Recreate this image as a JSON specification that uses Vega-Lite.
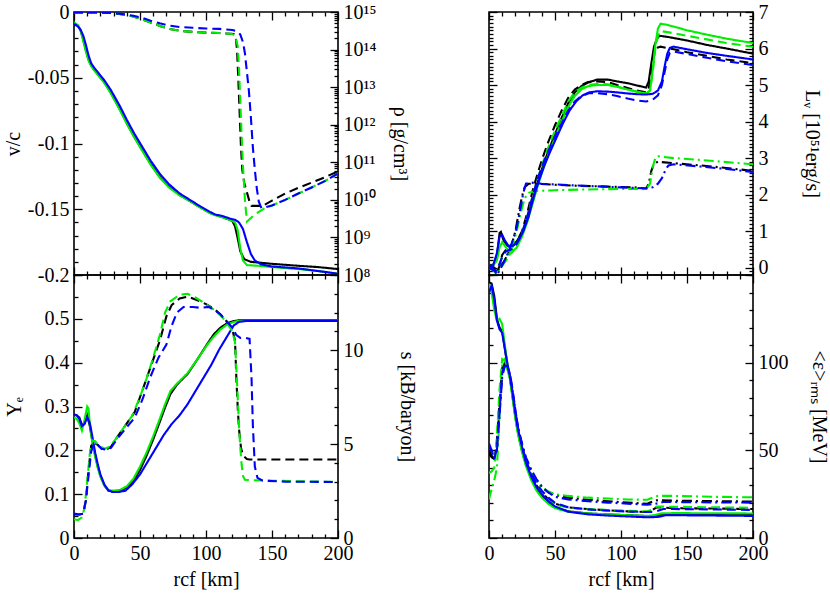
{
"$schema":"https://vega.github.io/schema/vega-lite/v6.json",
"background":"white",
"padding":{"left":2,"top":1,"right":5,"bottom":5},
"config":{
 "view":{"stroke":"black","strokeWidth":1.6},
 "axis":{"domain":false,"grid":false,"tickColor":"black","tickWidth":1.3,"labelFont":"Liberation Serif","labelFontSize":20,"labelColor":"black","titleFont":"Liberation Serif","titleFontSize":20,"titleFontWeight":"normal","titleColor":"black","labelPadding":13,"labelOverlap":false,"labelFlush":false,"labelBound":false},
 "line":{"strokeWidth":2.1}
},
"datasets":{
 "vc":[
  {"m":"a","k":"s","r":[0,3,5,7,9,11,13,15,19,23,28,35,40,46,52,58,65,72,80,88,96,103,107,112,118,120,122,124,126,129,134,150,170,185,200],"v":[-0.0085,-0.0105,-0.014,-0.021,-0.029,-0.036,-0.0405,-0.0435,-0.0485,-0.0535,-0.0615,-0.0745,-0.0845,-0.0955,-0.1055,-0.1155,-0.1255,-0.133,-0.139,-0.1438,-0.1488,-0.1528,-0.1543,-0.1558,-0.158,-0.159,-0.163,-0.172,-0.182,-0.188,-0.19,-0.1915,-0.193,-0.194,-0.1955]},
  {"m":"b","k":"s","r":[0,3,5,7,9,11,13,15,19,23,28,35,40,46,52,58,65,72,80,88,96,103,107,112,118,122,124,126,128,131,140,150,170,185,200],"v":[-0.008,-0.01,-0.014,-0.022,-0.03,-0.037,-0.041,-0.044,-0.049,-0.054,-0.062,-0.075,-0.085,-0.096,-0.106,-0.116,-0.126,-0.1335,-0.1395,-0.144,-0.149,-0.153,-0.1545,-0.156,-0.158,-0.16,-0.166,-0.18,-0.189,-0.1925,-0.193,-0.194,-0.1955,-0.197,-0.199]},
  {"m":"c","k":"s","r":[0,3,5,7,9,11,13,15,19,23,28,35,40,46,52,58,65,72,80,88,96,103,107,112,118,122,125,128,131,134,137,142,150,170,185,200],"v":[-0.009,-0.011,-0.0135,-0.018,-0.025,-0.033,-0.039,-0.042,-0.047,-0.052,-0.0595,-0.072,-0.082,-0.093,-0.103,-0.113,-0.123,-0.131,-0.138,-0.143,-0.148,-0.152,-0.154,-0.155,-0.157,-0.158,-0.16,-0.165,-0.175,-0.184,-0.189,-0.192,-0.1935,-0.195,-0.197,-0.199]}
 ],
 "rho":[
  {"m":"a","k":"d","r":[0,20,30,38,45,52,58,65,72,80,90,100,110,119,121,122.5,123.5,124.5,125.5,126.5,127.5,129,131,133,134.5,142,145,150,160,170,180,190,200],"v":[9.77e14,9.66e14,9.33e14,8.51e14,7.59e14,6.31e14,5.25e14,4.27e14,3.55e14,3.16e14,2.95e14,2.82e14,2.75e14,2.63e14,2.6e14,2.24e14,1e14,1.58e13,2e12,2.51e11,6.31e10,2.82e10,1.58e10,8.91e9,6.92e9,6.92e9,7.59e9,9.55e9,1.48e10,2.09e10,2.88e10,3.98e10,5.75e10]},
  {"m":"b","k":"d","r":[0,20,30,38,45,52,58,65,72,80,90,100,110,119,122,124,125,126,127,128,129.5,131,135,140,145,150,160,170,180,190,200],"v":[9.77e14,9.66e14,9.33e14,8.51e14,7.59e14,6.31e14,5.25e14,4.27e14,3.55e14,3.16e14,2.95e14,2.82e14,2.75e14,2.63e14,2.4e14,1.26e14,3.16e13,3.98e12,5.01e11,7.94e10,1e10,2.63e9,3.55e9,4.79e9,6.17e9,7.08e9,1e10,1.48e10,2.14e10,3.16e10,5.01e10]},
  {"m":"c","k":"d","r":[0,20,30,38,45,52,58,65,72,80,90,100,110,120,124,126,128,129.5,131,132.5,134,135.5,137,138.5,140,142,145,150,160,170,180,190,200],"v":[9.77e14,9.66e14,9.33e14,8.71e14,7.94e14,6.92e14,5.89e14,5.01e14,4.37e14,3.98e14,3.8e14,3.63e14,3.55e14,3.31e14,3.02e14,2.51e14,1.58e14,7.94e13,2.51e13,7.94e12,1.58e12,2.51e11,6.31e10,2e10,8.91e9,6.03e9,6.31e9,7.08e9,1e10,1.48e10,2.14e10,3.16e10,5.01e10]}
 ],
 "ye":[
  {"m":"a","k":"s","r":[0,2,4,6,8,10,12,14,16,18,20,23,26,30,35,40,45,50,55,60,65,69,73,78,86,94,101,106,111,116,121,126,200],"v":[0.282,0.28,0.275,0.258,0.262,0.28,0.255,0.22,0.19,0.163,0.142,0.12,0.108,0.106,0.108,0.115,0.13,0.155,0.188,0.225,0.265,0.298,0.328,0.35,0.374,0.41,0.443,0.465,0.48,0.49,0.495,0.497,0.497]},
  {"m":"b","k":"s","r":[0,2,4,6,8,10,11,12,14,16,18,20,23,26,30,35,40,45,50,55,60,65,69,73,78,86,94,101,106,111,116,121,126,200],"v":[0.275,0.272,0.262,0.245,0.27,0.3,0.295,0.26,0.215,0.185,0.16,0.14,0.12,0.109,0.108,0.11,0.118,0.135,0.163,0.195,0.232,0.272,0.305,0.335,0.352,0.376,0.41,0.441,0.46,0.476,0.487,0.493,0.496,0.496]},
  {"m":"c","k":"s","r":[0,2,4,6,8,10,12,14,16,18,20,23,26,29,34,39,44,50,56,62,68,74,80,86,92,98,104,110,116,121,125,130,200],"v":[0.28,0.28,0.272,0.255,0.26,0.276,0.262,0.23,0.195,0.168,0.145,0.122,0.109,0.105,0.105,0.108,0.122,0.145,0.175,0.205,0.235,0.26,0.28,0.305,0.335,0.365,0.395,0.43,0.46,0.485,0.493,0.495,0.495]}
 ],
 "s":[
  {"m":"a","k":"d","r":[0,4,7,9,11,13,15,18,21,24,28,33,40,46,51,55,60,65,70,74,80,86,92,100,106,111,116,120,122,123,124,125,126.5,128,131,133,200],"v":[1.25,1.25,1.3,2.0,3.6,4.9,5.1,4.95,4.75,4.7,4.85,5.4,6.1,6.7,7.7,8.5,9.5,10.5,11.8,12.4,12.75,12.85,12.7,12.45,12.2,11.9,11.5,11.1,10.5,8.5,7.0,5.8,4.8,4.4,4.2,4.18,4.18]},
  {"m":"b","k":"d","r":[0,3,6,8,10,12,14,16,19,23,27,32,38,44,50,55,60,65,69,73,80,86,92,100,106,111,116,120,122,123,124,125,126,127,128,129.5,135,150,200],"v":[1.0,0.95,1.1,1.6,3.0,4.5,5.2,5.15,4.9,4.75,4.85,5.3,5.9,6.5,7.5,8.5,9.6,10.8,12.0,12.6,12.95,13.0,12.8,12.45,12.15,11.85,11.45,11.0,10.4,9.0,7.5,6.0,4.8,3.9,3.3,3.1,3.08,3.05,2.98]},
  {"m":"c","k":"d","r":[0,4,7,9,11,13,15,18,21,24,28,33,40,46,52,58,64,70,74,78,83,90,96,102,106,111,116,120,123,126,130,133,134.5,135.5,137,139,143,160,200],"v":[1.3,1.25,1.3,2.0,3.3,4.6,5.0,4.95,4.75,4.7,4.8,5.3,5.9,6.4,7.4,8.6,9.6,10.3,11.3,12.0,12.3,12.3,12.25,12.3,12.15,11.9,11.5,11.2,10.8,10.65,10.65,10.6,8.5,6.0,3.8,3.2,3.05,3.0,2.98]}
 ],
 "lum":[
  {"m":"a","k":"s","r":[0,3,6,8,9,11,14,17,21,25,29,33,37,41,45,50,55,60,65,70,75,82,90,97,105,112,119,121,123,125,127,129,135,150,165,180,200],"v":[0.05,0.05,0.3,0.95,0.98,0.75,0.6,0.6,0.72,0.95,1.3,1.85,2.35,2.8,3.2,3.65,4.1,4.5,4.8,4.97,5.07,5.15,5.15,5.1,5.05,4.99,4.93,5.1,5.6,6.05,6.25,6.35,6.32,6.22,6.1,6.0,5.86]},
  {"m":"a","k":"d","r":[0,4,6,8,10,13,17,21,25,29,33,37,41,45,50,55,60,65,70,75,82,90,97,105,112,119,121,123,125,127,130,140,150,165,180,200],"v":[0.0,0.0,-0.15,0.05,0.35,0.5,0.55,0.7,1.0,1.5,2.1,2.6,3.05,3.45,3.9,4.3,4.65,4.88,5.0,5.08,5.1,5.08,5.0,4.92,4.85,4.8,4.9,5.4,5.85,6.02,6.05,5.98,5.9,5.8,5.7,5.6]},
  {"m":"a","k":"dd","r":[0,4,6,8,11,14,17,20,23,25,27,30,35,50,70,90,110,119,121,123,125,128,140,160,180,200],"v":[0.02,0.0,-0.15,0.0,0.15,0.35,0.6,1.0,1.6,1.95,2.2,2.3,2.3,2.27,2.24,2.22,2.2,2.17,2.3,2.65,2.85,2.9,2.86,2.8,2.73,2.65]},
  {"m":"b","k":"s","r":[0,3,6,8,10,12,15,18,21,25,29,33,37,41,45,50,55,60,65,70,75,82,90,97,105,112,119,122,124,126,128,130,135,150,165,180,200],"v":[0.05,0.05,0.2,0.55,0.7,0.6,0.45,0.45,0.55,0.85,1.25,1.75,2.25,2.7,3.1,3.55,4.0,4.4,4.7,4.88,4.97,5.0,5.0,4.95,4.88,4.82,4.77,4.85,5.4,6.1,6.55,6.68,6.65,6.5,6.38,6.27,6.15]},
  {"m":"b","k":"d","r":[0,5,8,10,13,17,21,25,29,33,37,41,45,50,55,60,65,70,75,82,90,97,105,112,119,122,124,126,128,130,135,150,165,180,200],"v":[0.0,-0.1,0.1,0.3,0.35,0.4,0.6,0.95,1.4,1.95,2.45,2.9,3.3,3.75,4.15,4.55,4.8,4.93,5.0,5.03,5.02,4.96,4.88,4.82,4.76,4.85,5.35,6.0,6.35,6.48,6.45,6.35,6.25,6.15,6.05]},
  {"m":"b","k":"dd","r":[0,4,6,9,12,15,18,21,24,27,30,35,50,70,90,110,119,122,124,126,128,140,160,180,200],"v":[0.0,-0.1,-0.2,0.0,0.15,0.3,0.6,1.0,1.5,1.9,2.05,2.1,2.12,2.14,2.15,2.16,2.15,2.3,2.75,3.0,3.05,3.0,2.95,2.89,2.83]},
  {"m":"c","k":"s","r":[0,3,6,8,10,12,15,18,22,26,30,34,38,42,46,51,56,61,66,71,76,82,90,97,105,112,119,124,128,131,133,135,137,140,150,165,180,200],"v":[0.05,0.05,0.4,0.85,0.9,0.75,0.58,0.6,0.72,1.0,1.4,1.95,2.4,2.8,3.15,3.55,3.95,4.3,4.55,4.72,4.8,4.83,4.82,4.8,4.77,4.75,4.74,4.76,4.85,5.1,5.5,5.85,6.02,6.05,5.98,5.88,5.8,5.7]},
  {"m":"c","k":"d","r":[0,5,8,10,13,17,21,25,29,33,37,41,45,50,55,60,65,70,76,82,90,97,105,112,119,124,128,131,133,135,137,140,150,165,180,200],"v":[0.0,-0.1,0.1,0.3,0.45,0.5,0.65,0.95,1.4,1.95,2.45,2.85,3.2,3.6,3.95,4.3,4.55,4.7,4.78,4.78,4.75,4.7,4.63,4.58,4.55,4.6,4.72,5.0,5.35,5.7,5.88,5.92,5.85,5.75,5.65,5.55]},
  {"m":"c","k":"dd","r":[0,4,6,9,12,15,18,21,24,26,28,32,40,60,80,100,119,124,128,131,134,136,140,160,180,200],"v":[0.0,-0.05,-0.2,0.0,0.2,0.45,0.75,1.1,1.65,2.05,2.3,2.33,2.3,2.26,2.23,2.2,2.17,2.2,2.3,2.45,2.7,2.8,2.83,2.77,2.7,2.62]}
 ],
 "erms":[
  {"m":"a","k":"s","r":[0,2,4,6,8,10,12,14,16,18,20,22,25,28,32,36,40,45,50,60,75,90,105,120,125,132,140,170,200],"v":[146,145,138,125,120,118,108,98,91,80,69,60,50,42,34,28,24,20,17.5,15.2,14,13.4,13,12.5,12.6,13.5,13.5,13.3,13.2]},
  {"m":"a","k":"d","r":[0,2,4,6,8,10,12,14,16,18,20,22,25,28,32,36,40,45,50,60,75,90,105,120,123,127,140,170,200],"v":[50,47,44,55,78,97,100,97,91,81,70,61,51,43,36,30,26,22,19.5,17.5,16.5,15.8,15.2,14.8,15.5,17.5,17,16.8,16.5]},
  {"m":"a","k":"dd","r":[0,2,4,6,8,10,12,14,16,18,20,22,25,28,32,36,40,45,50,60,75,90,105,120,123,127,140,170,200],"v":[48,46,45,50,75,95,100,97,91,81,71,62,53,45,38,33,29,26,24.5,23,21.8,21,20.2,19.5,20.5,21.5,21.3,21,20.8]},
  {"m":"b","k":"s","r":[0,2,4,6,8,10,12,14,16,18,20,22,25,28,32,36,40,45,50,60,75,90,105,120,125,130,140,170,200],"v":[145,140,130,124,125,122,110,99,90,79,68,59,49,41,33,27,23,19.5,17,15,14,13.5,13,12.6,13,14,14.2,14.1,14.0]},
  {"m":"b","k":"d","r":[0,2,4,6,8,10,12,14,16,18,20,22,25,28,32,36,40,45,50,60,75,90,105,120,123,127,140,170,200],"v":[37,38,40,58,85,102,101,96,90,80,69,60,50,42,35,29.5,25.5,21.5,19,17.3,16.5,16,15.5,15.2,16,18,17.8,17.5,17.2]},
  {"m":"b","k":"dd","r":[0,2,4,6,8,10,12,14,16,18,20,22,25,28,32,36,40,45,50,60,75,90,105,120,124,128,140,170,200],"v":[22,28,33,40,70,100,102,97,91,81,71,62,53,45,38,33,29,26.5,25,24,23,22.5,22,21.8,23,24,24,23.5,23.2]},
  {"m":"c","k":"s","r":[0,2,4,6,8,10,12,14,16,18,20,22,25,28,32,36,40,45,50,60,75,90,105,120,128,134,140,170,200],"v":[140,144,136,124,119,117,108,99,92,82,71,62,52,43,35,29,25,21,18,15,13.5,12.8,12.3,11.8,12,13,13,12.8,12.6]},
  {"m":"c","k":"d","r":[0,2,4,6,8,10,12,14,16,18,20,22,25,28,32,36,40,45,50,60,75,90,105,120,126,132,140,170,200],"v":[52,50,45,52,72,94,99,98,93,84,73,63,53,44,37,31,27,23,20,17.5,16.3,15.6,15.1,14.8,15,16.5,16.5,16.3,16.0]},
  {"m":"c","k":"dd","r":[0,2,4,6,8,10,12,14,16,18,20,22,25,28,32,36,40,45,50,60,75,90,105,120,126,132,140,170,200],"v":[54,50,46,50,70,92,98,98,93,83,72,63,54,46,39,33.5,29.5,26,23.5,22,21,20.2,19.6,19,19.5,20.5,20.5,20.3,20.2]}
 ]
},
"columns":2,
"spacing":{"row":0,"column":151},
"bounds":"flush",
"concat":[
  {"width":264,"height":263,
   "layer":[
    {"data":{"name":"vc"},"transform":[{"flatten":["r","v"]}],
     "mark":{"type":"line","clip":true},
     "encoding":{
      "x":{"field":"r","type":"quantitative","scale":{"domain":[0,200],"nice":false,"zero":false},
           "axis":{"orient":"bottom","values":[0,10,20,30,40,50,60,70,80,90,100,110,120,130,140,150,160,170,180,190,200],"labels":false,"title":null,"tickSize":{"condition":{"test":"datum.value % 50 === 0","value":-8},"value":-4}}},
      "y":{"field":"v","type":"quantitative","scale":{"domain":[-0.2,0],"nice":false,"zero":false},
           "axis":{"orient":"left","title":"v/c","titlePadding":4,"values":[0,-0.01,-0.02,-0.03,-0.04,-0.05,-0.06,-0.07,-0.08,-0.09,-0.1,-0.11,-0.12,-0.13,-0.14,-0.15,-0.16,-0.17,-0.18,-0.19,-0.2],
                   "labelExpr":"abs(datum.value*20 - round(datum.value*20)) < 1e-6 ? (datum.value < -1e-9 ? '-' : '') + format(abs(datum.value), '.2~f') : ''",
                   "tickSize":{"condition":{"test":"abs(datum.value*20 - round(datum.value*20)) < 1e-6","value":-8},"value":-4}}},
      "color":{"field":"m","type":"nominal","scale":{"domain":["a","b","c"],"range":["#000000","#00ee00","#0000ff"]},"legend":null},
      "strokeDash":{"field":"k","type":"nominal","scale":{"domain":["s","d","dd"],"range":[[1,0],[9,5],[10,4,2,4]]},"legend":null}
     }},
    {"data":{"name":"rho"},"transform":[{"flatten":["r","v"]}],
     "mark":{"type":"line","clip":true},
     "encoding":{
      "x":{"field":"r","type":"quantitative","scale":{"domain":[0,200],"nice":false,"zero":false},
           "axis":{"orient":"top","values":[0,10,20,30,40,50,60,70,80,90,100,110,120,130,140,150,160,170,180,190,200],"labels":false,"title":null,"tickSize":{"condition":{"test":"datum.value % 50 === 0","value":-8},"value":-4}}},
      "y":{"field":"v","type":"quantitative","scale":{"type":"log","domain":[1e8,1e15],"nice":false,"zero":false},
           "axis":{"orient":"right","title":"ρ [g/cm³]","titlePadding":14,
                   "values":[1e8,2e8,3e8,4e8,5e8,6e8,7e8,8e8,9e8,1e9,2e9,3e9,4e9,5e9,6e9,7e9,8e9,9e9,1e10,2e10,3e10,4e10,5e10,6e10,7e10,8e10,9e10,1e11,2e11,3e11,4e11,5e11,6e11,7e11,8e11,9e11,1e12,2e12,3e12,4e12,5e12,6e12,7e12,8e12,9e12,1e13,2e13,3e13,4e13,5e13,6e13,7e13,8e13,9e13,1e14,2e14,3e14,4e14,5e14,6e14,7e14,8e14,9e14,1e15],
                   "labelExpr":"datum.value === 1e8 ? '10⁸' : datum.value === 1e9 ? '10⁹' : datum.value === 1e10 ? '10¹⁰' : datum.value === 1e11 ? '10¹¹' : datum.value === 1e12 ? '10¹²' : datum.value === 1e13 ? '10¹³' : datum.value === 1e14 ? '10¹⁴' : datum.value === 1e15 ? '10¹⁵' : ''",
                   "tickSize":{"condition":{"test":"abs(log(datum.value)/LN10 - round(log(datum.value)/LN10)) < 1e-6","value":-8},"value":-4}}},
      "color":{"field":"m","type":"nominal","scale":{"domain":["a","b","c"],"range":["#000000","#00ee00","#0000ff"]},"legend":null},
      "strokeDash":{"field":"k","type":"nominal","scale":{"domain":["s","d","dd"],"range":[[1,0],[9,5],[10,4,2,4]]},"legend":null}
     }}
   ],
   "resolve":{"scale":{"x":"independent","y":"independent","color":"shared","strokeDash":"shared"},"axis":{"x":"independent","y":"independent"}}
  },
  {"width":264,"height":263,
   "layer":[
    {"data":{"name":"lum"},"transform":[{"flatten":["r","v"]}],
     "mark":{"type":"line","clip":true},
     "encoding":{
      "x":{"field":"r","type":"quantitative","scale":{"domain":[0,200],"nice":false,"zero":false},
           "axis":{"orient":"bottom","values":[0,10,20,30,40,50,60,70,80,90,100,110,120,130,140,150,160,170,180,190,200],"labels":false,"title":null,"tickSize":{"condition":{"test":"datum.value % 50 === 0","value":-8},"value":-4}}},
      "y":{"field":"v","type":"quantitative","scale":{"domain":[-0.2,7],"nice":false,"zero":false},
           "axis":{"orient":"right","title":"Lᵥ [10⁵¹erg/s]","titlePadding":33,
                   "values":[-0.2,-0.1,0,0.1,0.2,0.3,0.4,0.5,0.6,0.7,0.8,0.9,1,1.1,1.2,1.3,1.4,1.5,1.6,1.7,1.8,1.9,2,2.1,2.2,2.3,2.4,2.5,2.6,2.7,2.8,2.9,3,3.1,3.2,3.3,3.4,3.5,3.6,3.7,3.8,3.9,4,4.1,4.2,4.3,4.4,4.5,4.6,4.7,4.8,4.9,5,5.1,5.2,5.3,5.4,5.5,5.6,5.7,5.8,5.9,6,6.1,6.2,6.3,6.4,6.5,6.6,6.7,6.8,6.9,7],
                   "labelExpr":"abs(datum.value - round(datum.value)) < 1e-6 ? '' + round(datum.value) : ''",
                   "tickSize":{"condition":{"test":"abs(datum.value - round(datum.value)) < 1e-6","value":-8},"value":-4}}},
      "color":{"field":"m","type":"nominal","scale":{"domain":["a","b","c"],"range":["#000000","#00ee00","#0000ff"]},"legend":null},
      "strokeDash":{"field":"k","type":"nominal","scale":{"domain":["s","d","dd"],"range":[[1,0],[9,5],[10,4,2,4]]},"legend":null}
     }},
    {"data":{"values":[{"r":0,"v":0}]},
     "mark":{"type":"point","opacity":0},
     "encoding":{
      "x":{"field":"r","type":"quantitative","scale":{"domain":[0,200],"nice":false,"zero":false},
           "axis":{"orient":"top","values":[0,10,20,30,40,50,60,70,80,90,100,110,120,130,140,150,160,170,180,190,200],"labels":false,"title":null,"tickSize":{"condition":{"test":"datum.value % 50 === 0","value":-8},"value":-4}}},
      "y":{"field":"v","type":"quantitative","scale":{"domain":[-0.2,7],"nice":false,"zero":false},
           "axis":{"orient":"left","title":null,"labels":false,
                   "values":[-0.2,-0.1,0,0.1,0.2,0.3,0.4,0.5,0.6,0.7,0.8,0.9,1,1.1,1.2,1.3,1.4,1.5,1.6,1.7,1.8,1.9,2,2.1,2.2,2.3,2.4,2.5,2.6,2.7,2.8,2.9,3,3.1,3.2,3.3,3.4,3.5,3.6,3.7,3.8,3.9,4,4.1,4.2,4.3,4.4,4.5,4.6,4.7,4.8,4.9,5,5.1,5.2,5.3,5.4,5.5,5.6,5.7,5.8,5.9,6,6.1,6.2,6.3,6.4,6.5,6.6,6.7,6.8,6.9,7],
                   "tickSize":{"condition":{"test":"abs(datum.value - round(datum.value)) < 1e-6","value":-8},"value":-4}}}
     }}
   ],
   "resolve":{"scale":{"x":"independent","y":"independent"},"axis":{"x":"independent","y":"independent"}}
  },
  {"width":264,"height":263,
   "layer":[
    {"data":{"name":"ye"},"transform":[{"flatten":["r","v"]}],
     "mark":{"type":"line","clip":true},
     "encoding":{
      "x":{"field":"r","type":"quantitative","scale":{"domain":[0,200],"nice":false,"zero":false},
           "axis":{"orient":"bottom","values":[0,10,20,30,40,50,60,70,80,90,100,110,120,130,140,150,160,170,180,190,200],"labelExpr":"datum.value % 50 === 0 ? '' + datum.value : ''","title":"rcf [km]","titlePadding":2,"tickSize":{"condition":{"test":"datum.value % 50 === 0","value":-8},"value":-4}}},
      "y":{"field":"v","type":"quantitative","scale":{"domain":[0,0.6],"nice":false,"zero":false},
           "axis":{"orient":"left","title":"Yₑ","titlePadding":20,"values":[0,0.05,0.1,0.15,0.2,0.25,0.3,0.35,0.4,0.45,0.5,0.55,0.6],
                   "labelExpr":"abs(datum.value*10 - round(datum.value*10)) < 1e-6 && datum.value < 0.55 ? format(datum.value, '.1~f') : ''",
                   "tickSize":{"condition":{"test":"abs(datum.value*10 - round(datum.value*10)) < 1e-6","value":-8},"value":-4}}},
      "color":{"field":"m","type":"nominal","scale":{"domain":["a","b","c"],"range":["#000000","#00ee00","#0000ff"]},"legend":null},
      "strokeDash":{"field":"k","type":"nominal","scale":{"domain":["s","d","dd"],"range":[[1,0],[9,5],[10,4,2,4]]},"legend":null}
     }},
    {"data":{"name":"s"},"transform":[{"flatten":["r","v"]}],
     "mark":{"type":"line","clip":true},
     "encoding":{
      "x":{"field":"r","type":"quantitative","scale":{"domain":[0,200],"nice":false,"zero":false},
           "axis":{"orient":"top","values":[0,10,20,30,40,50,60,70,80,90,100,110,120,130,140,150,160,170,180,190,200],"labels":false,"title":null,"tickSize":{"condition":{"test":"datum.value % 50 === 0","value":-8},"value":-4}}},
      "y":{"field":"v","type":"quantitative","scale":{"domain":[0,14],"nice":false,"zero":false},
           "axis":{"orient":"right","title":"s [kB/baryon]","titlePadding":33,"values":[0,1,2,3,4,5,6,7,8,9,10,11,12,13,14],
                   "labelExpr":"datum.value % 5 === 0 && datum.value < 14 ? '' + datum.value : ''",
                   "tickSize":{"condition":{"test":"datum.value % 5 === 0","value":-8},"value":-4}}},
      "color":{"field":"m","type":"nominal","scale":{"domain":["a","b","c"],"range":["#000000","#00ee00","#0000ff"]},"legend":null},
      "strokeDash":{"field":"k","type":"nominal","scale":{"domain":["s","d","dd"],"range":[[1,0],[9,5],[10,4,2,4]]},"legend":null}
     }}
   ],
   "resolve":{"scale":{"x":"independent","y":"independent","color":"shared","strokeDash":"shared"},"axis":{"x":"independent","y":"independent"}}
  },
  {"width":264,"height":263,
   "layer":[
    {"data":{"name":"erms"},"transform":[{"flatten":["r","v"]}],
     "mark":{"type":"line","clip":true},
     "encoding":{
      "x":{"field":"r","type":"quantitative","scale":{"domain":[0,200],"nice":false,"zero":false},
           "axis":{"orient":"bottom","values":[0,10,20,30,40,50,60,70,80,90,100,110,120,130,140,150,160,170,180,190,200],"labelExpr":"datum.value % 50 === 0 ? '' + datum.value : ''","title":"rcf [km]","titlePadding":2,"tickSize":{"condition":{"test":"datum.value % 50 === 0","value":-8},"value":-4}}},
      "y":{"field":"v","type":"quantitative","scale":{"domain":[0,150],"nice":false,"zero":false},
           "axis":{"orient":"right","title":"<ε>ᵣₘₛ [MeV]","titlePadding":20,"values":[0,10,20,30,40,50,60,70,80,90,100,110,120,130,140,150],
                   "labelExpr":"datum.value % 50 === 0 && datum.value < 150 ? '' + datum.value : ''",
                   "tickSize":{"condition":{"test":"datum.value % 50 === 0","value":-8},"value":-4}}},
      "color":{"field":"m","type":"nominal","scale":{"domain":["a","b","c"],"range":["#000000","#00ee00","#0000ff"]},"legend":null},
      "strokeDash":{"field":"k","type":"nominal","scale":{"domain":["s","d","dd"],"range":[[1,0],[9,5],[10,4,2,4]]},"legend":null}
     }},
    {"data":{"values":[{"r":0,"v":0}]},
     "mark":{"type":"point","opacity":0},
     "encoding":{
      "x":{"field":"r","type":"quantitative","scale":{"domain":[0,200],"nice":false,"zero":false},
           "axis":{"orient":"top","values":[0,10,20,30,40,50,60,70,80,90,100,110,120,130,140,150,160,170,180,190,200],"labels":false,"title":null,"tickSize":{"condition":{"test":"datum.value % 50 === 0","value":-8},"value":-4}}},
      "y":{"field":"v","type":"quantitative","scale":{"domain":[0,150],"nice":false,"zero":false},
           "axis":{"orient":"left","title":null,"labels":false,"values":[0,10,20,30,40,50,60,70,80,90,100,110,120,130,140,150],
                   "tickSize":{"condition":{"test":"datum.value % 50 === 0","value":-8},"value":-4}}}
     }}
   ],
   "resolve":{"scale":{"x":"independent","y":"independent"},"axis":{"x":"independent","y":"independent"}}
  }
]
}
